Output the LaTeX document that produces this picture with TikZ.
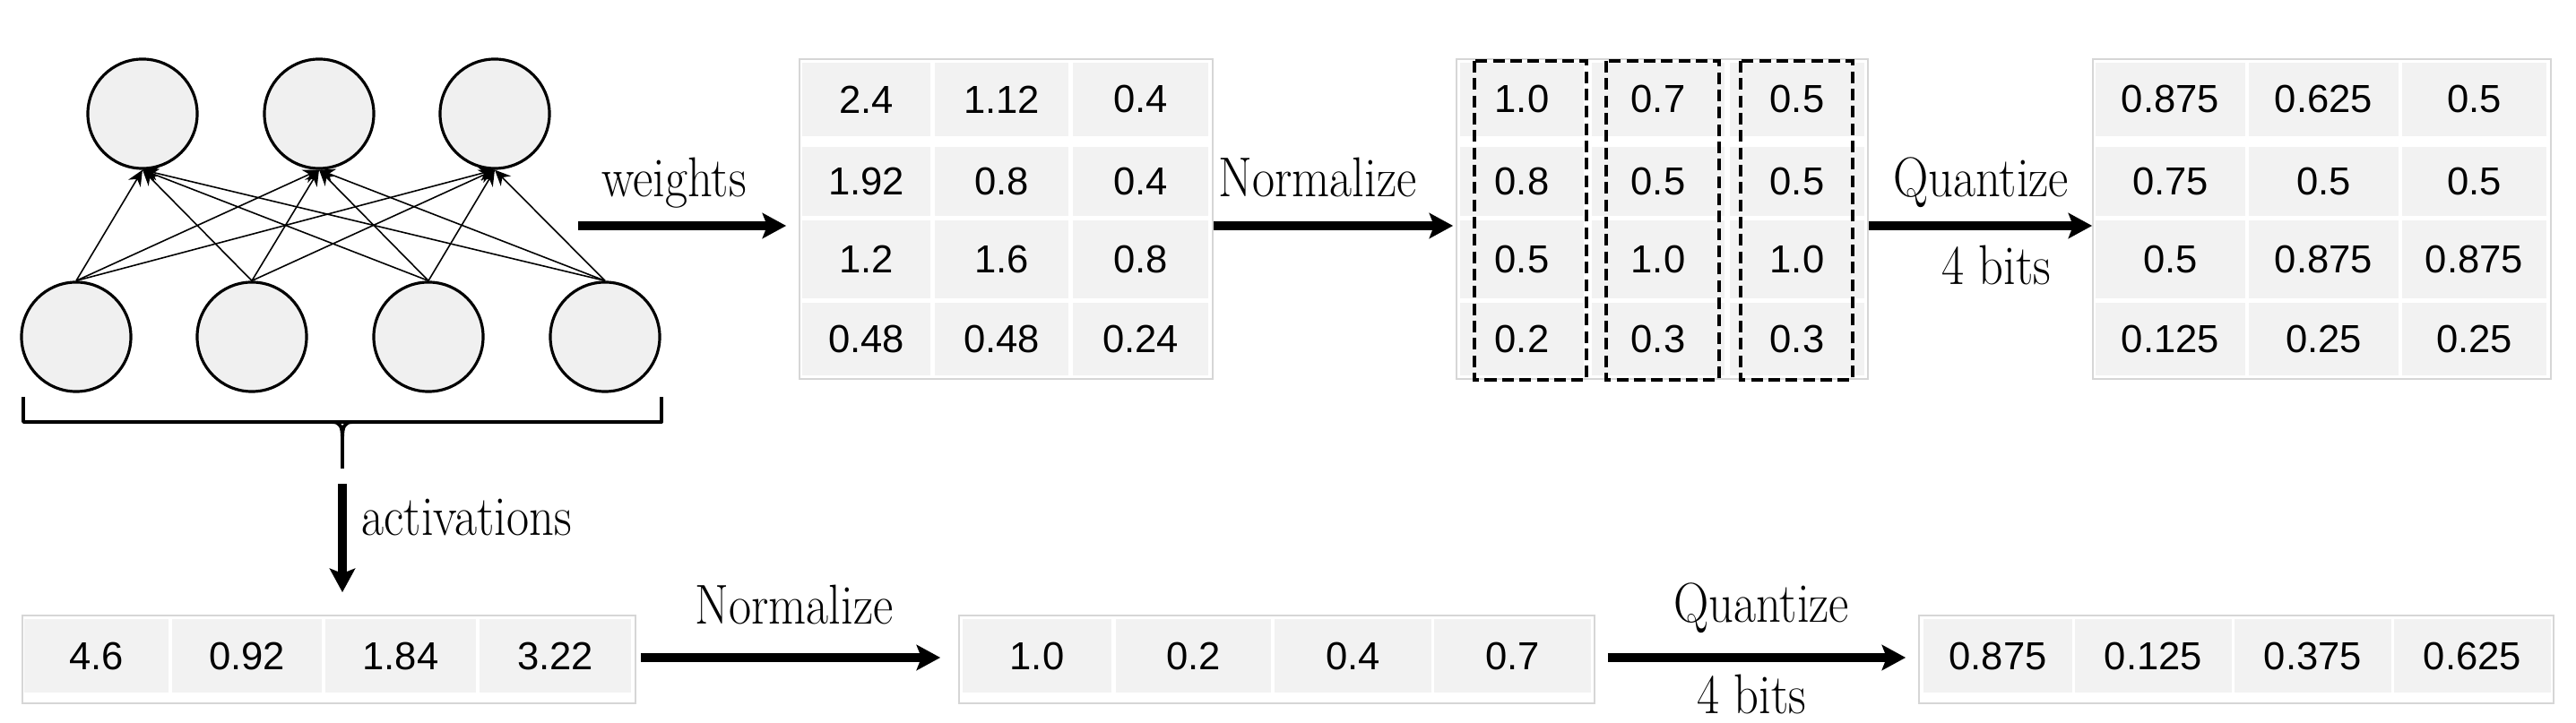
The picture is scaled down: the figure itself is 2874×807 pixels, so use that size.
\documentclass[tikz,border=0pt]{standalone}
\usepackage{fontspec}
\newfontfamily\numfont{Liberation Sans}
\usetikzlibrary{arrows.meta}
\definecolor{cellgray}{HTML}{F2F2F2}
\definecolor{framegray}{HTML}{D6D6D6}
\definecolor{neurongray}{HTML}{F0F0F0}
\newcommand{\tabrow}[5]{%
  \foreach \v [count=\c] in {#5}{%
    \pgfmathsetmacro\xa{\colA[\c-1]}%
    \pgfmathsetmacro\xb{\colB[\c-1]}%
    \pgfmathsetmacro\cw{(\xb-\xa)*0.01}%
    \pgfmathsetmacro\ch{(#4-#3)*0.01}%
    \node[cell, minimum width=\cw cm, minimum height=\ch cm] (#1-#2-\c) at ({(\xa+\xb)/2},{(#3+#4)/2}) {\v};}}
\newcommand{\frm}[5]{%
  \pgfmathsetmacro\cw{(#3-#2)*0.01}%
  \pgfmathsetmacro\ch{(#5-#4)*0.01}%
  \node[frame, minimum width=\cw cm, minimum height=\ch cm] (#1) at ({(#2+#3)/2},{(#4+#5)/2}) {};}
\newcommand{\tall}[1]{\scalebox{1}[1.15]{#1}}
\begin{document}
\begin{tikzpicture}[x=0.01cm,y=-0.01cm,
  cell/.style={fill=cellgray, draw=none, inner sep=0pt, font=\numfont\fontsize{12.4}{14}\selectfont},
  frame/.style={draw=framegray, line width=0.5pt, fill=white, inner sep=0pt},
  neuron/.style={circle, draw, line width=0.9pt, fill=neurongray, minimum size=1.22cm, inner sep=0pt},
  link/.style={line width=0.45pt, -{Stealth[length=5pt,width=4.5pt]}},
  bigarrow/.style={line width=2.7pt, -{Stealth[length=7.5pt,width=8pt,inset=1.5pt]}},
  lbl/.style={font=\fontsize{15.5}{18}\selectfont, inner sep=0pt, anchor=base},
  colbox/.style={draw, line width=1.1pt, dash pattern=on 3.7pt off 1.8pt},
  bracket/.style={line width=1.1pt, line join=round}
]
\useasboundingbox (0,0) rectangle (2874,807);

% ---------- neural network ----------
\node[neuron] (o1) at (159,127) {};
\node[neuron] (o2) at (356,127) {};
\node[neuron] (o3) at (552,127) {};
\node[neuron] (i1) at (85,376) {};
\node[neuron] (i2) at (281,376) {};
\node[neuron] (i3) at (478,376) {};
\node[neuron] (i4) at (675,376) {};
\foreach \a in {1,2,3,4}{\foreach \b in {1,2,3}{\draw[link] (i\a.north) -- (o\b.south);}}

% bracket
\draw[bracket] (26,443) -- (26,471) -- (738,471) -- (738,443);
\draw[bracket] (370,471) .. controls (380,471) and (382,476) .. (382,490) -- (382,523);
\draw[bracket] (394,471) .. controls (384,471) and (382,476) .. (382,490);

% ---------- top tables ----------
\frm{T1}{892}{1353}{66}{423}
\frm{T2}{1625}{2084}{66}{423}
\frm{T3}{2335}{2846}{66}{423}

\def\colA{{895,1043,1197}}\def\colB{{1038,1192,1348}}
\tabrow{a}{1}{70}{152}{2.4,1.12,0.4}
\tabrow{a}{2}{164}{241}{1.92,0.8,0.4}
\tabrow{a}{3}{246}{333}{1.2,1.6,0.8}
\tabrow{a}{4}{338}{419}{0.48,0.48,0.24}

\def\colA{{1629,1776,1930}}\def\colB{{1767,1924,2080}}
\tabrow{b}{1}{70}{152}{1.0,0.7,0.5}
\tabrow{b}{2}{164}{241}{0.8,0.5,0.5}
\tabrow{b}{3}{246}{333}{0.5,1.0,1.0}
\tabrow{b}{4}{338}{419}{0.2,0.3,0.3}

\def\colA{{2338,2509,2680}}\def\colB{{2505,2676,2841}}
\tabrow{c}{1}{70}{152}{0.875,0.625,0.5}
\tabrow{c}{2}{164}{241}{0.75,0.5,0.5}
\tabrow{c}{3}{246}{333}{0.5,0.875,0.875}
\tabrow{c}{4}{338}{419}{0.125,0.25,0.25}

\draw[colbox] (1645,68) rectangle (1770,424);
\draw[colbox] (1792,68) rectangle (1918,424);
\draw[colbox] (1942,68) rectangle (2067,424);

% ---------- bottom tables ----------
\frm{TA}{25}{709}{687}{785}
\frm{TB}{1070}{1779}{687}{785}
\frm{TC}{2141}{2849}{687}{785}

\def\colA{{27,192,363,535}}\def\colB{{188,359,531,704}}
\tabrow{d}{1}{691}{773}{4.6,0.92,1.84,3.22}
\def\colA{{1074,1245,1422,1600}}\def\colB{{1240,1418,1597,1775}}
\tabrow{e}{1}{691}{773}{1.0,0.2,0.4,0.7}
\def\colA{{2146,2315,2493,2671}}\def\colB{{2312,2490,2668,2846}}
\tabrow{f}{1}{691}{773}{0.875,0.125,0.375,0.625}

% ---------- arrows ----------
\coordinate (yt) at (0,252);
\coordinate (yb) at (0,734);
\coordinate (wS) at (645,252);
\draw[bigarrow, shorten >=0.14cm] (wS) -- (T1.west |- yt);
\draw[bigarrow, shorten >=0.03cm] (T1.east |- yt) -- (T2.west |- yt);
\draw[bigarrow] (T2.east |- yt) -- (T3.west |- yt);
\coordinate (bt) at (382,540);
\draw[bigarrow, shorten >=0.25cm] (bt) -- (bt |- TA.north);
\draw[bigarrow, shorten <=0.05cm, shorten >=0.2cm] (TA.east |- yb) -- (TB.west |- yb);
\draw[bigarrow, shorten <=0.14cm, shorten >=0.14cm] (TB.east |- yb) -- (TC.west |- yb);

% ---------- labels ----------
\node[lbl] (lw) at (752,220) {\tall{weights}};
\node[lbl] (ln1) at (1470,220) {\tall{Normalize}};
\node[lbl] (lq1) at (2210,220) {\tall{Quantize}};
\node[lbl] (lb1) at (2227,318) {\tall{4 bits}};
\node[lbl, anchor=base west] (la) at (403,598) {\tall{activations}};
\node[lbl] (ln2) at (886,697) {\tall{Normalize}};
\node[lbl] (lq2) at (1965,695) {\tall{Quantize}};
\node[lbl] (lb2) at (1954,797) {\tall{4 bits}};
\end{tikzpicture}
\end{document}
